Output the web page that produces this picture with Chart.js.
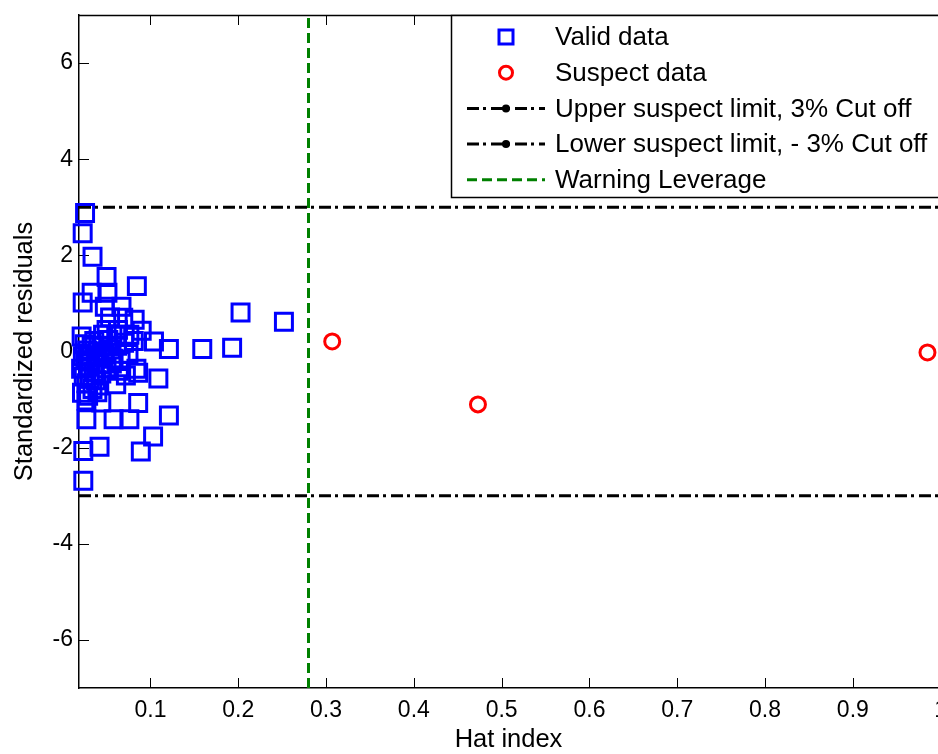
<!DOCTYPE html>
<html>
<head>
<meta charset="utf-8">
<script src="https://cdn.jsdelivr.net/npm/chart.js@4.4.0/dist/chart.umd.min.js"></script>
<style>
  html, body { margin: 0; padding: 0; overflow: hidden; background: #fff; }
  #wrap { width: 938px; height: 754px; }
</style>
</head>
<body>
<div id="wrap"><canvas id="myChart" width="938" height="754"></canvas></div>
<script>
// hat values / standardized residuals
const validX = [0.0255, 0.0228, 0.034, 0.05, 0.0845, 0.033, 0.051, 0.0228, 0.048, 0.067,
  0.054, 0.069, 0.082, 0.05, 0.063, 0.09, 0.0216, 0.046, 0.061, 0.076,
  0.104, 0.121, 0.159, 0.193, 0.2026, 0.252, 0.081, 0.07,
  0.025, 0.028, 0.03, 0.033, 0.036, 0.04, 0.026, 0.029, 0.032, 0.035,
  0.038, 0.042, 0.045, 0.048, 0.052, 0.055, 0.058, 0.024, 0.027, 0.031,
  0.034, 0.022, 0.029, 0.038, 0.044, 0.05, 0.062, 0.021, 0.023, 0.064,
  0.072, 0.061, 0.084, 0.086, 0.109, 0.027, 0.044, 0.086, 0.121, 0.027,
  0.058, 0.076, 0.103, 0.042, 0.0235, 0.089, 0.0235, 0.056, 0.075, 0.066, 0.0395];
const validY = [2.88, 2.46, 1.97, 1.55, 1.36, 1.22, 1.22, 1.02, 0.93, 0.93,
  0.71, 0.70, 0.66, 0.45, 0.45, 0.43, 0.31, 0.35, 0.33, 0.35,
  0.21, 0.05, 0.05, 0.08, 0.81, 0.62, 0.22, 0.18,
  0.15, 0.02, -0.08, 0.10, 0.22, 0.00, -0.18, -0.32, -0.20, -0.42,
  -0.12, -0.26, 0.12, -0.05, 0.24, 0.04, -0.15, -0.52, -0.66, -0.56,
  -0.78, -0.86, -0.92, -0.60, -0.46, -0.35, 0.12, -0.36, -0.10, -0.40,
  -0.50, -0.68, -0.36, -0.44, -0.56, -1.02, -1.06, -1.07, -1.33, -1.41,
  -1.41, -1.41, -1.77, -1.98, -2.07, -2.08, -2.69, -0.25, -0.05, -0.20, -0.85];
const suspectX = [0.307, 0.473, 0.985];
const suspectY = [0.21, -1.10, -0.02];
const upperLimit = 3;
const lowerLimit = -3;
const warningLeverage = 0.28;
const xRange = [0.0186, 0.997];
const yRange = [-7, 7];
const xTicks = [0.1, 0.2, 0.3, 0.4, 0.5, 0.6, 0.7, 0.8, 0.9, 1];
const yTicks = [-6, -4, -2, 0, 2, 4, 6];
const seriesNames = ['Valid data', 'Suspect data', 'Upper suspect limit, 3% Cut off',
  'Lower suspect limit, - 3% Cut off', 'Warning Leverage'];

const FONT = 'Arial, "Liberation Sans", sans-serif';

function pts(xs, ys) {
  return xs.map((x, i) => ({ x: x, y: ys[i] }));
}

function noPad(scale) {
  scale.paddingTop = 0;
  scale.paddingBottom = 0;
  scale.paddingLeft = 0;
  scale.paddingRight = 0;
}

// ticks drawn inward like the original plot + top border
const innerTicks = {
  id: 'innerTicks',
  beforeDatasetsDraw(chart) {
    const { ctx, chartArea, scales } = chart;
    ctx.save();
    ctx.strokeStyle = '#000';
    ctx.lineWidth = 1;
    ctx.beginPath();
    scales.x.ticks.forEach(t => {
      const px = Math.round(scales.x.getPixelForValue(t.value)) + 0.5;
      ctx.moveTo(px, chartArea.bottom);
      ctx.lineTo(px, chartArea.bottom - 10);
      ctx.moveTo(px, chartArea.top);
      ctx.lineTo(px, chartArea.top + 10);
    });
    scales.y.ticks.forEach(t => {
      const py = Math.round(scales.y.getPixelForValue(t.value)) + 0.5;
      ctx.moveTo(chartArea.left, py);
      ctx.lineTo(chartArea.left + 10, py);
    });
    ctx.stroke();
    ctx.lineWidth = 1.5;
    ctx.beginPath();
    ctx.moveTo(chartArea.left, chartArea.top + 0.5);
    ctx.lineTo(chartArea.right, chartArea.top + 0.5);
    ctx.stroke();
    ctx.restore();
  }
};

// boxed legend in the upper right corner
const legendBox = {
  id: 'legendBox',
  afterDatasetsDraw(chart, args, opts) {
    const ctx = chart.ctx;
    const ds = chart.data.datasets;
    ctx.save();
    ctx.fillStyle = '#fff';
    ctx.fillRect(opts.x, opts.y, opts.w, opts.h);
    ctx.strokeStyle = '#000';
    ctx.lineWidth = 1.5;
    ctx.strokeRect(opts.x + 0.5, opts.y + 0.5, opts.w, opts.h);
    ds.forEach((d, i) => {
      const cy = opts.y + opts.first + i * opts.step;
      const x1 = opts.x + 16, x2 = opts.x + 94, cx = (x1 + x2) / 2;
      ctx.strokeStyle = d.borderColor;
      ctx.lineWidth = d.borderWidth;
      if (d.showLine) {
        ctx.setLineDash(d.borderDash || []);
        ctx.beginPath();
        ctx.moveTo(x1, cy);
        ctx.lineTo(x2, cy);
        ctx.stroke();
        ctx.setLineDash([]);
        if (d.legendDot) {
          ctx.fillStyle = d.borderColor;
          ctx.beginPath();
          ctx.arc(cx, cy, 4, 0, Math.PI * 2);
          ctx.fill();
        }
      } else if (d.pointStyle === 'rect') {
        ctx.strokeRect(cx - 7, cy - 7, 14, 14);
      } else {
        ctx.beginPath();
        ctx.arc(cx, cy, 6.5, 0, Math.PI * 2);
        ctx.stroke();
      }
      ctx.fillStyle = '#000';
      ctx.font = '26px ' + FONT;
      ctx.textBaseline = 'middle';
      ctx.fillText(d.label, opts.x + 104, cy + 1);
    });
    ctx.restore();
  }
};

const chartdata = {
  datasets: [
    {
      label: seriesNames[0],
      data: pts(validX, validY),
      pointStyle: 'rect',
      pointRadius: 12,
      pointHoverRadius: 12,
      borderColor: '#0000ff',
      backgroundColor: 'rgba(0,0,0,0)',
      borderWidth: 3,
      showLine: false,
      clip: false
    },
    {
      label: seriesNames[1],
      data: pts(suspectX, suspectY),
      pointStyle: 'circle',
      pointRadius: 7.5,
      pointHoverRadius: 7.5,
      borderColor: '#ff0000',
      backgroundColor: 'rgba(0,0,0,0)',
      borderWidth: 3,
      showLine: false,
      clip: false
    },
    {
      label: seriesNames[2],
      data: [{ x: xRange[0], y: upperLimit }, { x: xRange[1], y: upperLimit }],
      showLine: true,
      borderColor: '#000',
      borderWidth: 3,
      borderDash: [12, 4, 3, 5],
      pointRadius: 0,
      legendDot: true
    },
    {
      label: seriesNames[3],
      data: [{ x: xRange[0], y: lowerLimit }, { x: xRange[1], y: lowerLimit }],
      showLine: true,
      borderColor: '#000',
      borderWidth: 3,
      borderDash: [12, 4, 3, 5],
      pointRadius: 0,
      legendDot: true
    },
    {
      label: seriesNames[4],
      data: [{ x: warningLeverage, y: yRange[0] }, { x: warningLeverage, y: yRange[1] }],
      showLine: true,
      borderColor: '#008000',
      borderWidth: 3,
      borderDash: [10, 5],
      pointRadius: 0
    }
  ]
};

const config = {
  type: 'scatter',
  data: chartdata,
  options: {
    responsive: false,
    animation: false,
    layout: { autoPadding: false, padding: { top: 15, right: 0, left: 0, bottom: 0 } },
    plugins: {
      legend: { display: false },
      tooltip: { enabled: false },
      legendBox: { x: 451, y: 15, w: 540, h: 182, first: 22, step: 35.7 }
    },
    scales: {
      x: {
        type: 'linear',
        min: xRange[0],
        max: xRange[1],
        afterBuildTicks(scale) { scale.ticks = xTicks.map(v => ({ value: v })); },
        ticks: {
          autoSkip: false,
          maxRotation: 0,
          color: '#000',
          padding: 9,
          font: { family: FONT, size: 23 },
          callback: v => String(Number(v.toFixed(1)))
        },
        grid: { drawOnChartArea: false, drawTicks: false },
        border: { color: '#000', width: 1.5 },
        title: {
          display: true,
          text: 'Hat index',
          color: '#000',
          font: { family: FONT, size: 25.5 },
          padding: { top: 0, bottom: -1 }
        },
        afterFit(scale) { scale.height = 66; noPad(scale); }
      },
      y: {
        type: 'linear',
        min: yRange[0],
        max: yRange[1],
        afterBuildTicks(scale) { scale.ticks = yTicks.map(v => ({ value: v })); },
        ticks: {
          color: '#000',
          padding: 6,
          font: { family: FONT, size: 23 },
          callback: v => String(v)
        },
        grid: { drawOnChartArea: false, drawTicks: false },
        border: { color: '#000', width: 1.5 },
        title: {
          display: true,
          text: 'Standardized residuals',
          color: '#000',
          font: { family: FONT, size: 25.5 },
          padding: { top: 10, bottom: 0 }
        },
        afterFit(scale) { scale.width = 79; noPad(scale); }
      }
    }
  },
  plugins: [innerTicks, legendBox]
};

var myChart = new Chart(document.getElementById('myChart'), config);
</script>
</body>
</html>
